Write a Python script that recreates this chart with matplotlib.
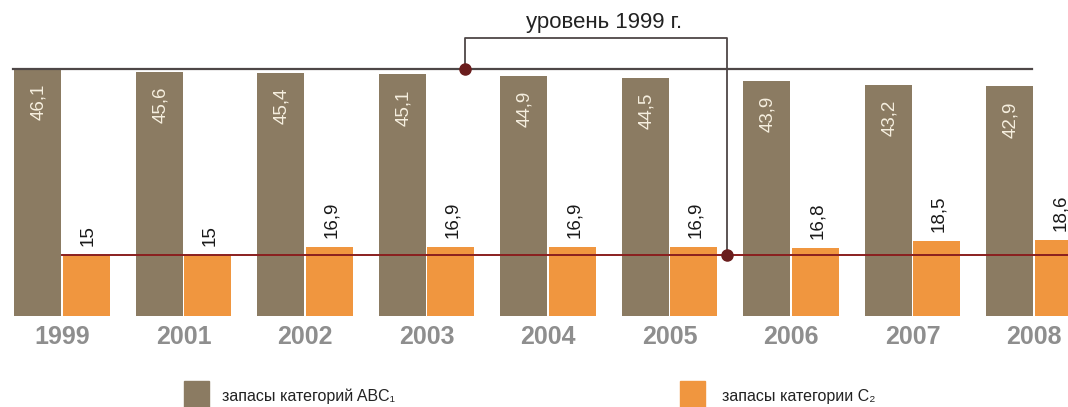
import numpy as np
import matplotlib
matplotlib.use('Agg')
import matplotlib.pyplot as plt
from matplotlib.patches import Rectangle

years = ['1999', '2001', '2002', '2003', '2004', '2005', '2006', '2007', '2008']
abc1 = [46.1, 45.6, 45.4, 45.1, 44.9, 44.5, 43.9, 43.2, 42.9]
c2 = [15, 15, 16.9, 16.9, 16.9, 16.9, 16.8, 18.5, 18.6]
abc1_labels = ['46,1', '45,6', '45,4', '45,1', '44,9', '44,5', '43,9', '43,2', '42,9']
c2_labels = ['15', '15', '16,9', '16,9', '16,9', '16,9', '16,8', '18,5', '18,6']
legend_names = ['запасы категорий ABC\u2081', 'запасы категории C\u2082']
level_text = 'уровень 1999 г.'

brown = '#8b7b62'
orange = '#f0963f'
dark = '#4e4747'
red = '#8a1f1f'
dot = '#6a1d1d'
grey = '#8e8e8e'

narrow = ['Liberation Sans Narrow', 'Liberation Sans', 'DejaVu Sans']
plain = ['Liberation Sans', 'DejaVu Sans']

fig = plt.figure(figsize=(10.68, 4.07), dpi=100)
ax = fig.add_axes([0, 91 / 407, 1, 316 / 407])
ax2 = ax.twinx()
ax.set_position([0, 91 / 407, 1, 316 / 407])
ax2.set_position([0, 91 / 407, 1, 316 / 407])

abc_top = 59.0
c2_top = 77.6
x = np.arange(len(years))
w = 0.387
off = 0.2

ax.bar(x - off, abc1, w, color=brown)
ax2.bar(x + off, c2, w, color=orange)
ax.set_xlim(-0.51, 8.28)
ax2.set_xlim(-0.51, 8.28)
ax.set_ylim(0, abc_top)
ax2.set_ylim(0, c2_top)
ax.axis('off')
ax2.axis('off')

for xi, v, s in zip(x, abc1, abc1_labels):
    ax.annotate(s, (xi - off, v), xytext=(1, -15), textcoords='offset pixels',
                rotation=90, ha='center', va='top', fontsize=13.5,
                color='#f6efdf', family=plain)
for xi, v, s in zip(x, c2, c2_labels):
    ax2.annotate(s, (xi + off, v), xytext=(2, 9), textcoords='offset pixels',
                 rotation=90, ha='center', va='bottom', fontsize=13.5,
                 color='#1a1a1a', family=plain)

# years under each group
for xi, y in zip(x, years):
    ax.text(xi, -0.068, y, transform=ax.get_xaxis_transform(), ha='center',
            va='center', fontsize=18, fontweight='bold', color=grey,
            family=narrow, clip_on=False)

# 1999 levels for both categories
def to_c2(v):
    return v * c2_top / abc_top

lvl_abc = to_c2(abc1[0])
lvl_c2 = c2[0]
ax2.plot([-0.40, 7.98], [lvl_abc, lvl_abc], color=dark, lw=1.6, zorder=3)
ax2.plot([0.0, 8.3], [lvl_c2, lvl_c2], color=red, lw=1.4, zorder=3)

x_up, x_low = 3.317, 5.47
y_bracket = 0.88 * c2_top
ax2.plot([x_up, x_up, x_low, x_low], [lvl_abc, y_bracket, y_bracket, lvl_c2],
         color=dark, lw=1.3, zorder=3)
ax2.plot([x_up, x_low], [lvl_abc, lvl_c2], 'o', color=dot, ms=8, zorder=4)
ax2.text(4.46, 0.930, level_text, transform=ax2.get_xaxis_transform(),
         ha='center', va='center', fontsize=16, color='#222222', family=plain)

# legend
for (x0, x1), name, c in zip([(184, 222), (680, 722)], legend_names, [brown, orange]):
    fig.patches.append(Rectangle((x0 / 1068, 0), 25 / 1068, 26 / 407,
                                 transform=fig.transFigure, color=c,
                                 figure=fig))
    fig.text(x1 / 1068, 11 / 407, name, ha='left', va='center', fontsize=11.5,
             color='#222222', family=narrow)

fig.savefig('out.png', dpi=100)
